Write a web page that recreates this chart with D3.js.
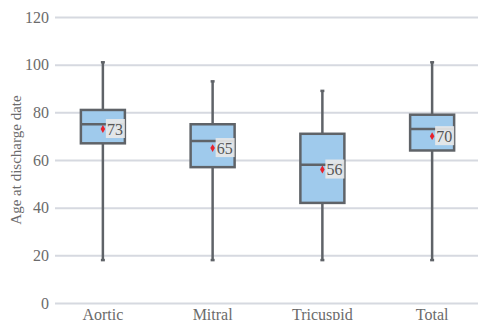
<!DOCTYPE html>
<html><head><meta charset="utf-8">
<script src="https://cdn.jsdelivr.net/npm/d3@7/dist/d3.min.js"></script>
<style>body{margin:0;background:#fff}svg{display:block}</style>
</head><body><svg id="c" width="478" height="320"></svg>
<script>
const categories = ["Aortic", "Mitral", "Tricuspid", "Total"];
const whiskerLow = [18, 18, 18, 18];
const q1 = [67, 57, 42, 64];
const median = [75, 68, 58, 73];
const q3 = [81, 75, 71, 79];
const whiskerHigh = [101, 93, 89, 101];
const means = [73, 65, 56, 70];
const yTicks = [0, 20, 40, 60, 80, 100, 120];
const yTitle = "Age at discharge date";

const svg = d3.select("#c");
const y = d3.scaleLinear().domain([0, 120]).range([303, 17]);
const x = d3.scaleBand().domain(categories).range([48, 487]).paddingInner(0).paddingOuter(0);
const font = "'Liberation Serif', 'Times New Roman', serif";

// grid
const yAxis = d3.axisLeft(y).tickValues(yTicks).tickSize(-423).tickPadding(6);
const gy = svg.append("g").attr("transform", "translate(55,0)").call(yAxis);
gy.select(".domain").remove();
gy.selectAll(".tick line").attr("stroke", "#d6d9e0").attr("stroke-width", 2);
gy.selectAll(".tick text").attr("fill", "#6b6b6b").style("font-family", font).style("font-size", "16px");

// x axis labels
const xAxis = d3.axisBottom(x).tickSize(0).tickPadding(6);
const gx = svg.append("g").attr("transform", "translate(0,303)").call(xAxis);
gx.select(".domain").remove();
gx.selectAll(".tick text").attr("fill", "#6b6b6b").style("font-family", font).style("font-size", "16px");

svg.append("text").attr("transform", "translate(21,160) rotate(-90)")
  .attr("text-anchor", "middle").attr("fill", "#6b6b6b")
  .style("font-family", font).style("font-size", "15px").text(yTitle);

const bw = 44;
const stroke = "#5f6368";
categories.forEach((c, i) => {
  const cx = x(c) + x.bandwidth() / 2;
  const g = svg.append("g");
  g.append("line").attr("x1", cx).attr("x2", cx).attr("y1", y(whiskerHigh[i])).attr("y2", y(q3[i]))
    .attr("stroke", stroke).attr("stroke-width", 2.5);
  g.append("line").attr("x1", cx).attr("x2", cx).attr("y1", y(q1[i])).attr("y2", y(whiskerLow[i]))
    .attr("stroke", stroke).attr("stroke-width", 2.5);
  [whiskerHigh[i], whiskerLow[i]].forEach(v => {
    g.append("line").attr("x1", cx - 2).attr("x2", cx + 2).attr("y1", y(v)).attr("y2", y(v))
      .attr("stroke", stroke).attr("stroke-width", 2.5);
  });
  g.append("rect").attr("x", cx - bw / 2).attr("y", y(q3[i])).attr("width", bw)
    .attr("height", y(q1[i]) - y(q3[i])).attr("fill", "#9fcaec").attr("stroke", stroke).attr("stroke-width", 2.5);
  g.append("line").attr("x1", cx - bw / 2).attr("x2", cx + bw / 2).attr("y1", y(median[i])).attr("y2", y(median[i]))
    .attr("stroke", stroke).attr("stroke-width", 2.5);
  // mean label
  const my = y(means[i]);
  g.append("rect").attr("x", cx + 3).attr("y", my - 10).attr("width", 19).attr("height", 19)
    .attr("fill", "#e9e9e9").attr("opacity", 0.9);
  g.append("text").attr("x", cx + 4).attr("y", my + 5.5).attr("fill", "#555")
    .style("font-family", font).style("font-size", "16px").text(means[i]);
  g.append("path").attr("d", d3.symbol(d3.symbolDiamond, 18)()).attr("transform", `translate(${cx},${my})`)
    .attr("fill", "#e8212b");
});
</script></body></html>
